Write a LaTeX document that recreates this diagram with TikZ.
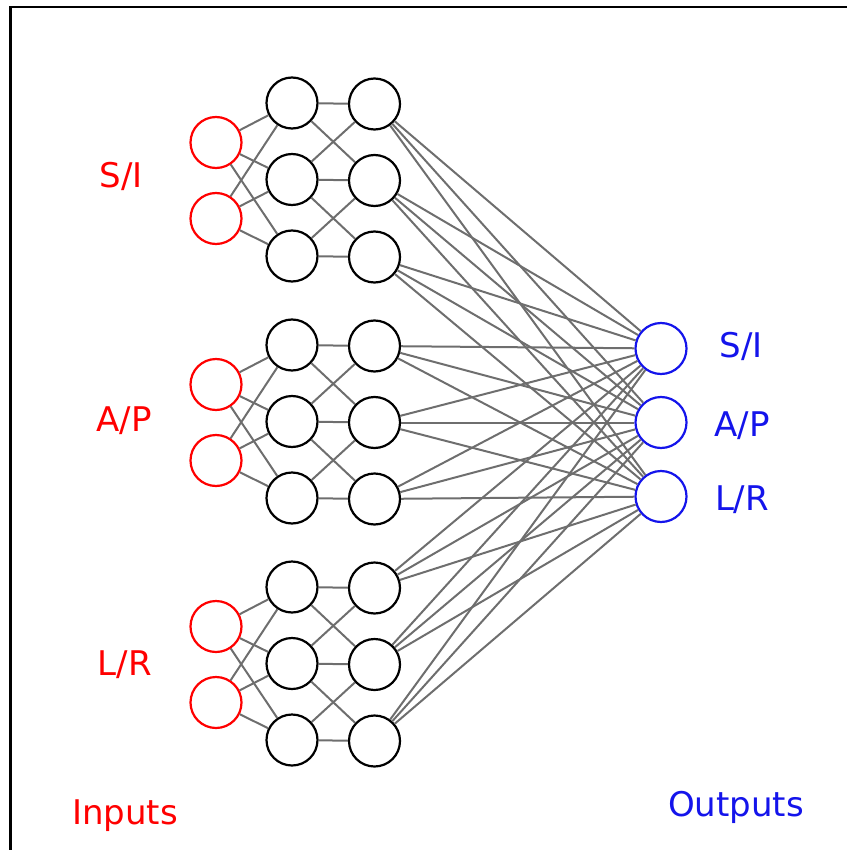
\documentclass[tikz,border=0pt]{standalone}
\usepackage{fontspec}
\setmainfont{DejaVu Sans}
\definecolor{edgegray}{RGB}{110,110,110}
\definecolor{inred}{RGB}{255,0,0}
\definecolor{outblue}{RGB}{20,20,235}
\begin{document}
\begin{tikzpicture}[x=1pt,y=-1pt,
  unit/.style={circle,draw,fill=white,line width=2.2pt,minimum size=51pt,inner sep=0pt},
  innode/.style={unit,draw=inred},
  hidnode/.style={unit,draw=black},
  outnode/.style={unit,draw=outblue},
  link/.style={draw=edgegray,line width=2pt},
  lbl/.style={font=\fontsize{34}{40}\selectfont,anchor=base,inner sep=0pt}]
\useasboundingbox (0,0) rectangle (847,850);
% frame
\draw[line width=2.6pt] (10.5,850) -- (10.5,7) -- (847,7);

% output layer
\node[outnode] (o1) at (661,348.5) {};
\node[outnode] (o2) at (661,422.5) {};
\node[outnode] (o3) at (661,496.5) {};

% three input groups, each with two hidden layers
\foreach \g in {0,1,2}{
  \pgfmathsetmacro{\dy}{242*\g}
  \node[innode] (in\g-1) at (216,142.5+\dy) {};
  \node[innode] (in\g-2) at (216,218.5+\dy) {};
  \node[hidnode] (ha\g-1) at (292,103+\dy) {};
  \node[hidnode] (ha\g-2) at (292,179.5+\dy) {};
  \node[hidnode] (ha\g-3) at (292,256+\dy) {};
  \node[hidnode] (hb\g-1) at (374.5,104+\dy) {};
  \node[hidnode] (hb\g-2) at (374.5,180.5+\dy) {};
  \node[hidnode] (hb\g-3) at (374.5,257+\dy) {};
  \foreach \a in {1,2}
    \foreach \h in {1,2,3}
      \draw[link] (in\g-\a) -- (ha\g-\h);
  \foreach \p/\q in {1/1,1/2,2/1,2/2,2/3,3/2,3/3}
    \draw[link] (ha\g-\p) -- (hb\g-\q);
  \foreach \h in {1,2,3}
    \foreach \o in {1,2,3}
      \draw[link] (hb\g-\h) -- (o\o);
}

% labels
\node[lbl,text=inred] (lsi) at (121,188) {S/I};
\node[lbl,text=inred] (lap) at (124,431) {A/P};
\node[lbl,text=inred] (llr) at (125,675) {L/R};
\node[lbl,text=inred] (lin) at (125,824) {Inputs};
\node[lbl,text=outblue] (rsi) at (741,357) {S/I};
\node[lbl,text=outblue] (rap) at (742,436.5) {A/P};
\node[lbl,text=outblue] (rlr) at (742,510) {L/R};
\node[lbl,text=outblue] (rout) at (736,816) {Outputs};
\end{tikzpicture}
\end{document}
